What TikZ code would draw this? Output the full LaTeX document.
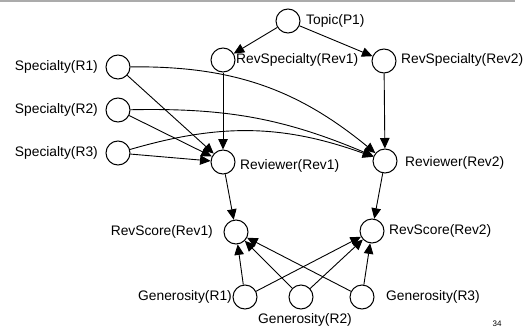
\documentclass[tikz,border=0pt]{standalone}
\usepackage{fontspec}
\setmainfont{Liberation Sans}
\usetikzlibrary{arrows.meta}
\begin{document}
\begin{tikzpicture}[x=1pt,y=-1pt,
  var/.style={circle,draw,line width=1pt,minimum size=24pt,inner sep=0pt},
  lab/.style={inner sep=0pt,font=\fontsize{13.8}{15}\selectfont},
  edge/.style={line width=0.9pt,-{Triangle[length=10.5pt,width=9.5pt]}}]
\useasboundingbox (0,0) rectangle (529,329);
% header rule
\draw[line width=1.5pt,color=black!33] (0,1) -- (515,1);

% variables
\node[var] (topic) at (288,21) {};
\node[var] (rs1) at (223,60) {};
\node[var] (rs2) at (384,61) {};
\node[var] (sp1) at (118,67) {};
\node[var] (sp2) at (118,110) {};
\node[var] (sp3) at (118,153) {};
\node[var] (rv1) at (223,162) {};
\node[var] (rv2) at (385,161) {};
\node[var] (sc1) at (236,232) {};
\node[var] (sc2) at (372,231) {};
\node[var] (g1) at (245,297) {};
\node[var] (g2) at (301,297) {};
\node[var] (g3) at (362,297) {};

% names
\node[lab,anchor=west] (ltopic) at (306,21) {Topic(P1)};
\node[lab,anchor=west] (lrs1) at (236,60) {RevSpecialty(Rev1)};
\node[lab,anchor=west] (lrs2) at (401,60) {RevSpecialty(Rev2)};
\node[lab,anchor=east] (lsp1) at (98,67) {Specialty(R1)};
\node[lab,anchor=east] (lsp2) at (98,110) {Specialty(R2)};
\node[lab,anchor=east] (lsp3) at (98,153) {Specialty(R3)};
\node[lab,anchor=west] (lrv1) at (240,166) {Reviewer(Rev1)};
\node[lab,anchor=west] (lrv2) at (405,163) {Reviewer(Rev2)};
\node[lab,anchor=east] (lsc1) at (213,232) {RevScore(Rev1)};
\node[lab,anchor=west] (lsc2) at (389,231) {RevScore(Rev2)};
\node[lab,anchor=east] (lg1) at (232,297) {Generosity(R1)};
\node[lab] (lg2) at (305,320) {Generosity(R2)};
\node[lab,anchor=west] (lg3) at (386,297) {Generosity(R3)};
\node[inner sep=0pt,font=\fontsize{8}{9}\selectfont] (page) at (497,324) {34};

% dependencies
\draw[edge] (topic) -- (rs1);
\draw[edge] (topic) -- (rs2);
\draw[edge] (rs1) -- (rv1);
\draw[edge] (rs2) -- (rv2);
\draw[edge] (sp1) -- (rv1);
\draw[edge] (sp2) -- (rv1);
\draw[edge] (sp3) -- (rv1);
\draw[edge] (sp1) to[bend left=20] (rv2);
\draw[edge] (sp2) to[bend left=12] (rv2);
\draw[edge] (sp3) to[bend left=18] (rv2);
\draw[edge] (rv1) -- (sc1);
\draw[edge] (rv2) -- (sc2);
\draw[edge] (g1) -- (sc1);
\draw[edge] (g1) -- (sc2);
\draw[edge] (g2) -- (sc1);
\draw[edge] (g2) -- (sc2);
\draw[edge] (g3) -- (sc1);
\draw[edge] (g3) -- (sc2);
\end{tikzpicture}
\end{document}
